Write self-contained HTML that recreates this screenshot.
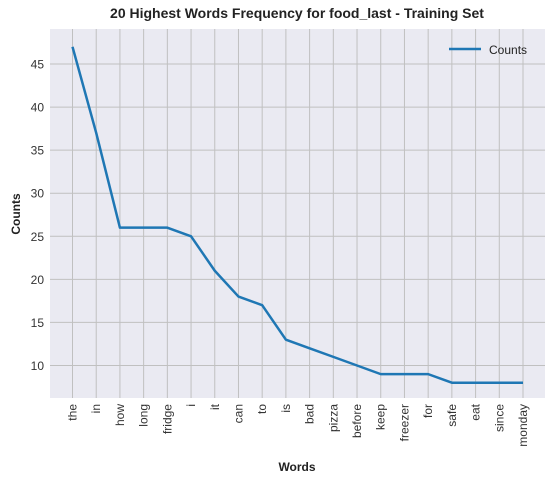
<!DOCTYPE html>
<html><head><style>
body{margin:0;background:#fff;font-family:"Liberation Sans",sans-serif;}
</style></head><body>
<svg width="555" height="483" xmlns="http://www.w3.org/2000/svg" id="c">
<rect x="0" y="0" width="555" height="483" fill="#fff"/>
<rect x="50" y="29" width="495" height="369" fill="#eaeaf2"/>
<g id="grid"></g>
<g id="ticks"></g>
<polyline id="line" fill="none" stroke="#1f77b4" stroke-width="2.5" stroke-linejoin="round"/>
<text x="297" y="18" text-anchor="middle" font-size="14" font-weight="bold" fill="#222">20 Highest Words Frequency for food_last - Training Set</text>
<text x="297" y="471" text-anchor="middle" font-size="12" font-weight="bold" fill="#222">Words</text>
<text transform="translate(20,214) rotate(-90)" text-anchor="middle" font-size="12" font-weight="bold" fill="#222">Counts</text>
<g>
<line x1="449" y1="49" x2="481" y2="49" stroke="#1f77b4" stroke-width="2.5"/>
<text x="489" y="54" font-size="12" fill="#222">Counts</text>
</g>
</svg>
<script>
const categories=["the","in","how","long","fridge","i","it","can","to","is","bad","pizza","before","keep","freezer","for","safe","eat","since","monday"];
const counts=[47,37,26,26,26,25,21,18,17,13,12,11,10,9,9,9,8,8,8,8];
const yTicks=[10,15,20,25,30,35,40,45];
const NS="http://www.w3.org/2000/svg";
function xs(i){return 72.5+i*(523-72.5)/(categories.length-1);}
function ys(v){return 365.5-(v-10)*(301.5/35);}
const grid=document.getElementById('grid'),ticks=document.getElementById('ticks');
function mk(t,a,p){const e=document.createElementNS(NS,t);for(const k in a)e.setAttribute(k,a[k]);p.appendChild(e);return e;}
yTicks.forEach(v=>{
 const l=mk('line',{x1:50,x2:545,y1:ys(v),y2:ys(v),stroke:'#c0c0c0','stroke-width':1},grid);
 
 
 const t=mk('text',{x:44,y:ys(v)+4.5,'text-anchor':'end','font-size':12,fill:'#333'},ticks);
 t.textContent=v;
 
 
});
categories.forEach((c,i)=>{
 const l=mk('line',{x1:xs(i),x2:xs(i),y1:29,y2:398,stroke:'#c0c0c0','stroke-width':1},grid);
 
 
 const t=mk('text',{transform:`translate(${xs(i)+4},404) rotate(-90)`,'text-anchor':'end','font-size':12,fill:'#333'},ticks);
 t.textContent=c;
 
 
});
document.getElementById('line').setAttribute('points',counts.map((v,i)=>xs(i)+','+ys(v)).join(' '));
</script>
</body></html>
